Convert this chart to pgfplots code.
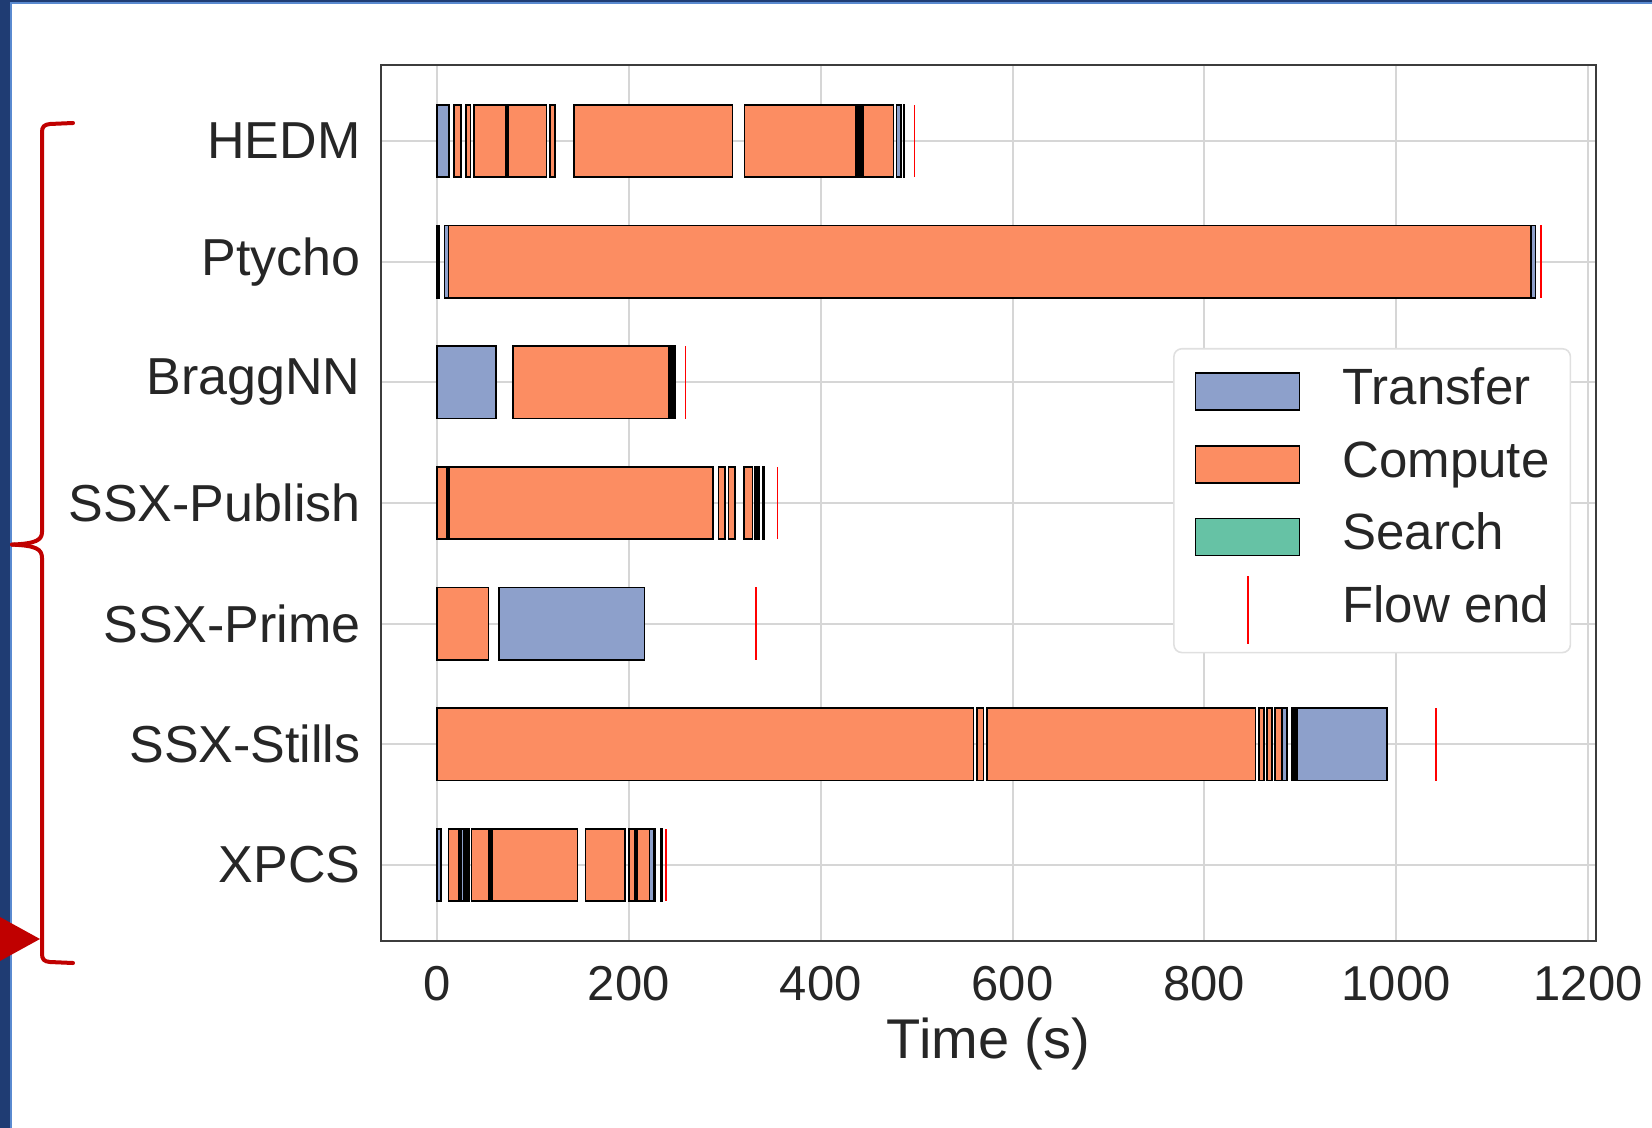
\documentclass[border=0pt]{standalone}
\usepackage{fontspec}
\setmainfont{Liberation Sans}
\usepackage{pgfplots}
\pgfplotsset{compat=1.18}
\definecolor{transfer}{HTML}{8DA0CB}
\definecolor{compute}{HTML}{FC8D62}
\definecolor{search}{HTML}{66C2A5}
\definecolor{txt}{HTML}{262626}
\definecolor{gridc}{HTML}{D6D6D6}
\definecolor{framec}{HTML}{3C3C3C}
\definecolor{legc}{HTML}{E0E0E0}
\definecolor{navy}{HTML}{1F3C73}
\definecolor{edgeblue}{HTML}{5A8AD0}
\definecolor{bracered}{HTML}{C00000}
\pgfplotsset{
 tr/.style={fill=transfer, draw=black, line width=0.8pt, forget plot},
 cp/.style={fill=compute, draw=black, line width=0.8pt, forget plot},
 bk/.style={fill=black, draw=black, line width=0.8pt, forget plot},
 fe/.style={draw=red, line width=0.75pt, forget plot},
}
% segment: style, start, end, ylow, yhigh
\newcommand{\seg}[5]{\addplot[#1] coordinates {(#2,#4) (#3,#4) (#3,#5) (#2,#5)} -- cycle;}
% flow end: time, ylow, yhigh
\newcommand{\fend}[3]{\addplot[fe] coordinates {(#1,#2) (#1,#3)};}
\begin{document}
\begin{tikzpicture}
\fill[white] (0,0) rectangle (826pt,-564pt);
\useasboundingbox (0,0) rectangle (826pt,-564pt);
\begin{axis}[
 at={(190.5pt,-470.5pt)}, anchor=south west,
 scale only axis, width=607.5pt, height=438pt,
 xmin=-58.4, xmax=1208.3, ymin=-0.63, ymax=6.63,
 xtick={0,200,400,600,800,1000,1200},
 ytick={0,1,2,3,4,5,6},
 yticklabels={XPCS,SSX-Stills,SSX-Prime,SSX-Publish,BraggNN,Ptycho,HEDM},
 xmajorgrids, ymajorgrids,
 major grid style={draw=gridc, line width=1pt},
 major tick length=0pt,
 axis line style={draw=framec, line width=1pt},
 /pgf/number format/assume math mode=true,
 /pgf/number format/1000 sep={},
 scaled x ticks=false,
 yticklabel style={font=\fontsize{26}{31}\selectfont, text=txt, xshift=-6.7pt},
 xticklabel style={font=\fontsize{24.5}{29}\selectfont, text=txt, yshift=-8.9pt},
 xlabel={Time (s)},
 xlabel style={font=\fontsize{28}{33}\selectfont, text=txt, yshift=-2pt},
 legend cell align=left,
 legend style={at={(0.6519,0.677)}, anchor=north west, draw=legc, fill=white,
   rounded corners=4pt, line width=0.8pt, inner xsep=10.5pt, inner ysep=10pt,
   font=\fontsize{25.5}{30}\selectfont, text=txt,
   nodes={inner sep=0pt, text height=18pt, text depth=5pt},
   row sep=13.3pt,
   /tikz/every odd column/.append style={column sep=21pt}},
]
% legend
\addlegendimage{legend image code/.code={\draw[sharp corners,fill=transfer,draw=black,line width=0.8pt] (0pt,-9.25pt) rectangle (52pt,9.25pt);}}
\addlegendentry{Transfer}
\addlegendimage{legend image code/.code={\draw[sharp corners,fill=compute,draw=black,line width=0.8pt] (0pt,-9.25pt) rectangle (52pt,9.25pt);}}
\addlegendentry{Compute}
\addlegendimage{legend image code/.code={\draw[sharp corners,fill=search,draw=black,line width=0.8pt] (0pt,-9.25pt) rectangle (52pt,9.25pt);}}
\addlegendentry{Search}
\addlegendimage{legend image code/.code={\path[draw=none,fill=none] (0pt,-9.25pt) rectangle (52pt,9.25pt); \draw[overlay,red,line width=1pt] (26pt,-17pt) -- (26pt,17pt);}}
\addlegendentry{Flow end}
% HEDM (y=6)
\seg{tr}{0}{12.2}{5.7}{6.3}
\seg{cp}{17.7}{24.7}{5.7}{6.3}
\seg{cp}{29.9}{35.1}{5.7}{6.3}
\seg{cp}{38.6}{71.2}{5.7}{6.3}
\seg{bk}{71.2}{74}{5.7}{6.3}
\seg{cp}{74}{114.3}{5.7}{6.3}
\seg{cp}{117.8}{123}{5.7}{6.3}
\seg{cp}{142.5}{308.2}{5.7}{6.3}
\seg{cp}{320.4}{436.8}{5.7}{6.3}
\seg{bk}{436.8}{443.8}{5.7}{6.3}
\seg{cp}{443.8}{475.7}{5.7}{6.3}
\seg{tr}{479.2}{484}{5.7}{6.3}
\seg{bk}{486.5}{487.5}{5.7}{6.3}
\fend{498}{5.7}{6.3}
% Ptycho (y=5)
\seg{bk}{0}{2.4}{4.7}{5.3}
\seg{tr}{7.6}{11.8}{4.7}{5.3}
\seg{cp}{11.8}{1140.5}{4.7}{5.3}
\seg{tr}{1140.5}{1145}{4.7}{5.3}
\fend{1151}{4.7}{5.3}
% BraggNN (y=4)
\seg{tr}{0}{61.5}{3.7}{4.3}
\seg{cp}{79.2}{241.2}{3.7}{4.3}
\seg{bk}{243}{248}{3.7}{4.3}
\fend{259.2}{3.7}{4.3}
% SSX-Publish (y=3)
\seg{cp}{0}{10}{2.7}{3.3}
\seg{bk}{10}{12.9}{2.7}{3.3}
\seg{cp}{12.9}{288}{2.7}{3.3}
\seg{cp}{293.3}{300}{2.7}{3.3}
\seg{cp}{303.7}{310.7}{2.7}{3.3}
\seg{cp}{320}{328.7}{2.7}{3.3}
\seg{bk}{331.5}{336}{2.7}{3.3}
\seg{bk}{339.5}{341.3}{2.7}{3.3}
\fend{355.2}{2.7}{3.3}
% SSX-Prime (y=2)
\seg{cp}{0}{53.5}{1.7}{2.3}
\seg{tr}{64.6}{216.5}{1.7}{2.3}
\fend{332.6}{1.7}{2.3}
% SSX-Stills (y=1)
\seg{cp}{0}{559.3}{0.7}{1.3}
\seg{cp}{562.8}{569.7}{0.7}{1.3}
\seg{cp}{573.2}{853.2}{0.7}{1.3}
\seg{cp}{856.7}{861.9}{0.7}{1.3}
\seg{cp}{865.4}{870.6}{0.7}{1.3}
\seg{cp}{873.4}{881}{0.7}{1.3}
\seg{tr}{881}{886.2}{0.7}{1.3}
\seg{bk}{891.5}{896.7}{0.7}{1.3}
\seg{tr}{896.7}{990.6}{0.7}{1.3}
\fend{1041.7}{0.7}{1.3}
% XPCS (y=0)
\seg{tr}{0}{4.2}{-0.3}{0.3}
\seg{cp}{11.8}{22.2}{-0.3}{0.3}
\seg{bk}{22.2}{24.7}{-0.3}{0.3}
\seg{tr}{24.7}{28.1}{-0.3}{0.3}
\seg{bk}{28.1}{33.4}{-0.3}{0.3}
\seg{cp}{36.1}{54.2}{-0.3}{0.3}
\seg{bk}{54.2}{57.7}{-0.3}{0.3}
\seg{cp}{57.7}{146.6}{-0.3}{0.3}
\seg{cp}{155}{196}{-0.3}{0.3}
\seg{cp}{200.2}{205.7}{-0.3}{0.3}
\seg{bk}{205.7}{208.9}{-0.3}{0.3}
\seg{cp}{208.9}{221.4}{-0.3}{0.3}
\seg{tr}{221.4}{225.5}{-0.3}{0.3}
\seg{bk}{225.5}{227.3}{-0.3}{0.3}
\seg{bk}{233.8}{234.6}{-0.3}{0.3}
\fend{238.7}{-0.3}{0.3}
\end{axis}
% slide decorations
\fill[navy] (0,0) rectangle (5pt,-564pt);
\draw[edgeblue, line width=1pt] (5.5pt,-1pt) -- (5.5pt,-564pt);
\fill[navy] (0,0) rectangle (826pt,-1pt);
\draw[edgeblue, line width=0.6pt] (5pt,-1.5pt) -- (826pt,-1.5pt);
\draw[bracered, line width=2pt, line cap=round]
  (36.5pt,-61.5pt) -- (25pt,-62pt) .. controls (22pt,-62.3pt) and (21pt,-63.5pt) .. (21pt,-66pt)
  -- (21pt,-266pt) .. controls (21pt,-270pt) and (18pt,-271.8pt) .. (6pt,-272.3pt);
\draw[bracered, line width=2pt, line cap=round]
  (6pt,-272.3pt) .. controls (18pt,-272.8pt) and (21pt,-274.5pt) .. (21pt,-279pt)
  -- (21pt,-477pt) .. controls (21pt,-479.5pt) and (22pt,-480.8pt) .. (25pt,-481pt) -- (36.5pt,-481.5pt);
\fill[bracered] (0,-458.5pt) -- (20pt,-469.5pt) -- (0,-480.5pt) -- cycle;
\end{tikzpicture}
\end{document}
